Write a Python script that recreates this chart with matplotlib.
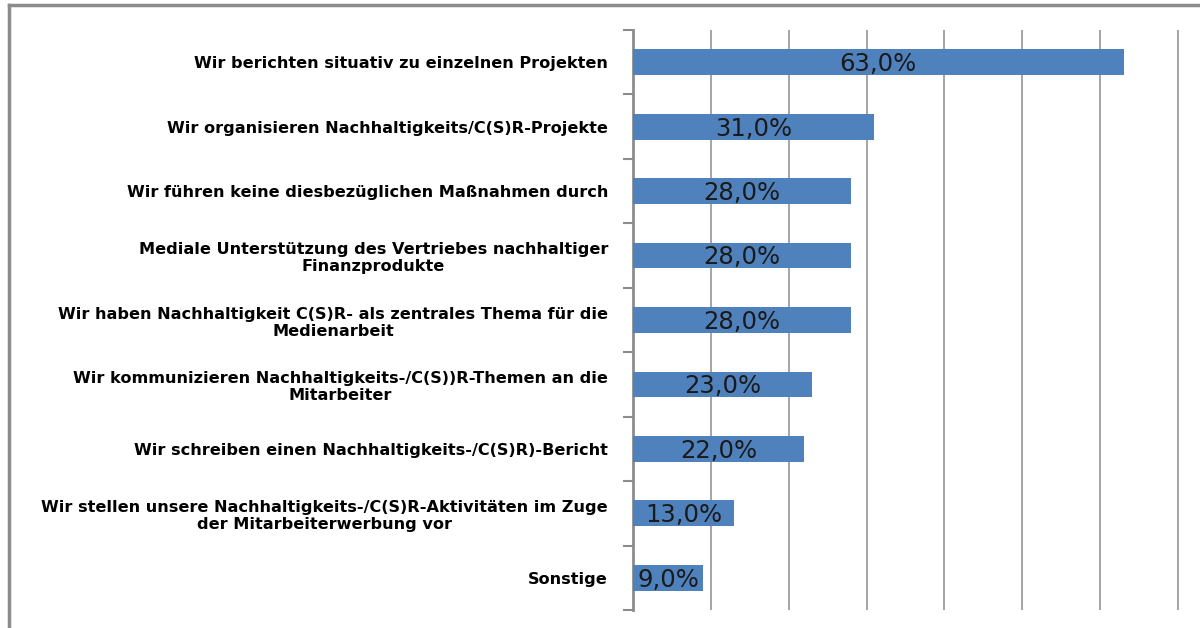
import matplotlib.pyplot as plt
from matplotlib.lines import Line2D

labels = [
    "Wir berichten situativ zu einzelnen Projekten",
    "Wir organisieren Nachhaltigkeits/C(S)R-Projekte",
    "Wir führen keine diesbezüglichen Maßnahmen durch",
    "Mediale Unterstützung des Vertriebes nachhaltiger\nFinanzprodukte",
    "Wir haben Nachhaltigkeit C(S)R- als zentrales Thema für die\nMedienarbeit",
    "Wir kommunizieren Nachhaltigkeits-/C(S))R-Themen an die\nMitarbeiter",
    "Wir schreiben einen Nachhaltigkeits-/C(S)R)-Bericht",
    "Wir stellen unsere Nachhaltigkeits-/C(S)R-Aktivitäten im Zuge\nder Mitarbeiterwerbung vor",
    "Sonstige",
]
values = [63.0, 31.0, 28.0, 28.0, 28.0, 23.0, 22.0, 13.0, 9.0]
grid_ticks = [10, 20, 30, 40, 50, 60, 70]

plt.rcParams['font.family'] = ['DejaVu Sans']

fig = plt.figure(figsize=(12, 6.28), dpi=100)
ax = fig.add_axes([633 / 1200, 1 - 610 / 628, 567 / 1200, 580 / 628])

pos = list(range(len(values)))
ax.barh(pos, values, height=0.4, color='#4F81BD', zorder=3)
for p, v in zip(pos, values):
    ax.text(v / 2, p + 0.03, "{:.1f}%".format(v).replace(".", ","), ha='center', va='center',
            fontsize=17.5, color='#1a1a1a', zorder=4)

ax.set_xlim(0, 70 * 567 / 545)
ax.set_ylim(len(values) - 0.5, -0.5)

# gridlines
ax.set_xticks(grid_ticks)
ax.tick_params(axis='x', length=0, labelbottom=False)
ax.grid(axis='x', color='#8c8c8c', linewidth=1.1, zorder=0)

# category labels, tick marks at boundaries
ax.set_yticks(pos)
ax.set_yticklabels(labels, fontsize=11.6, fontweight='bold', multialignment='center',
                   linespacing=1.2)
ax.tick_params(axis='y', which='major', length=0, pad=18)
ax.set_yticks([i - 0.5 for i in range(len(values) + 1)], minor=True)
ax.tick_params(axis='y', which='minor', length=7, width=1.5, color='#8c8c8c')

for s in ['top', 'right', 'bottom']:
    ax.spines[s].set_visible(False)
ax.spines['left'].set_color('#8c8c8c')
ax.spines['left'].set_linewidth(2)

# outer chart frame
fig.add_artist(Line2D([9 / 1200, 9 / 1200], [0, 1 - 5 / 628], color='#8c8c8c', linewidth=2.5))
fig.add_artist(Line2D([9 / 1200, 1], [1 - 5 / 628, 1 - 5 / 628], color='#8c8c8c', linewidth=2.5))

fig.savefig("out.png", dpi=100)
